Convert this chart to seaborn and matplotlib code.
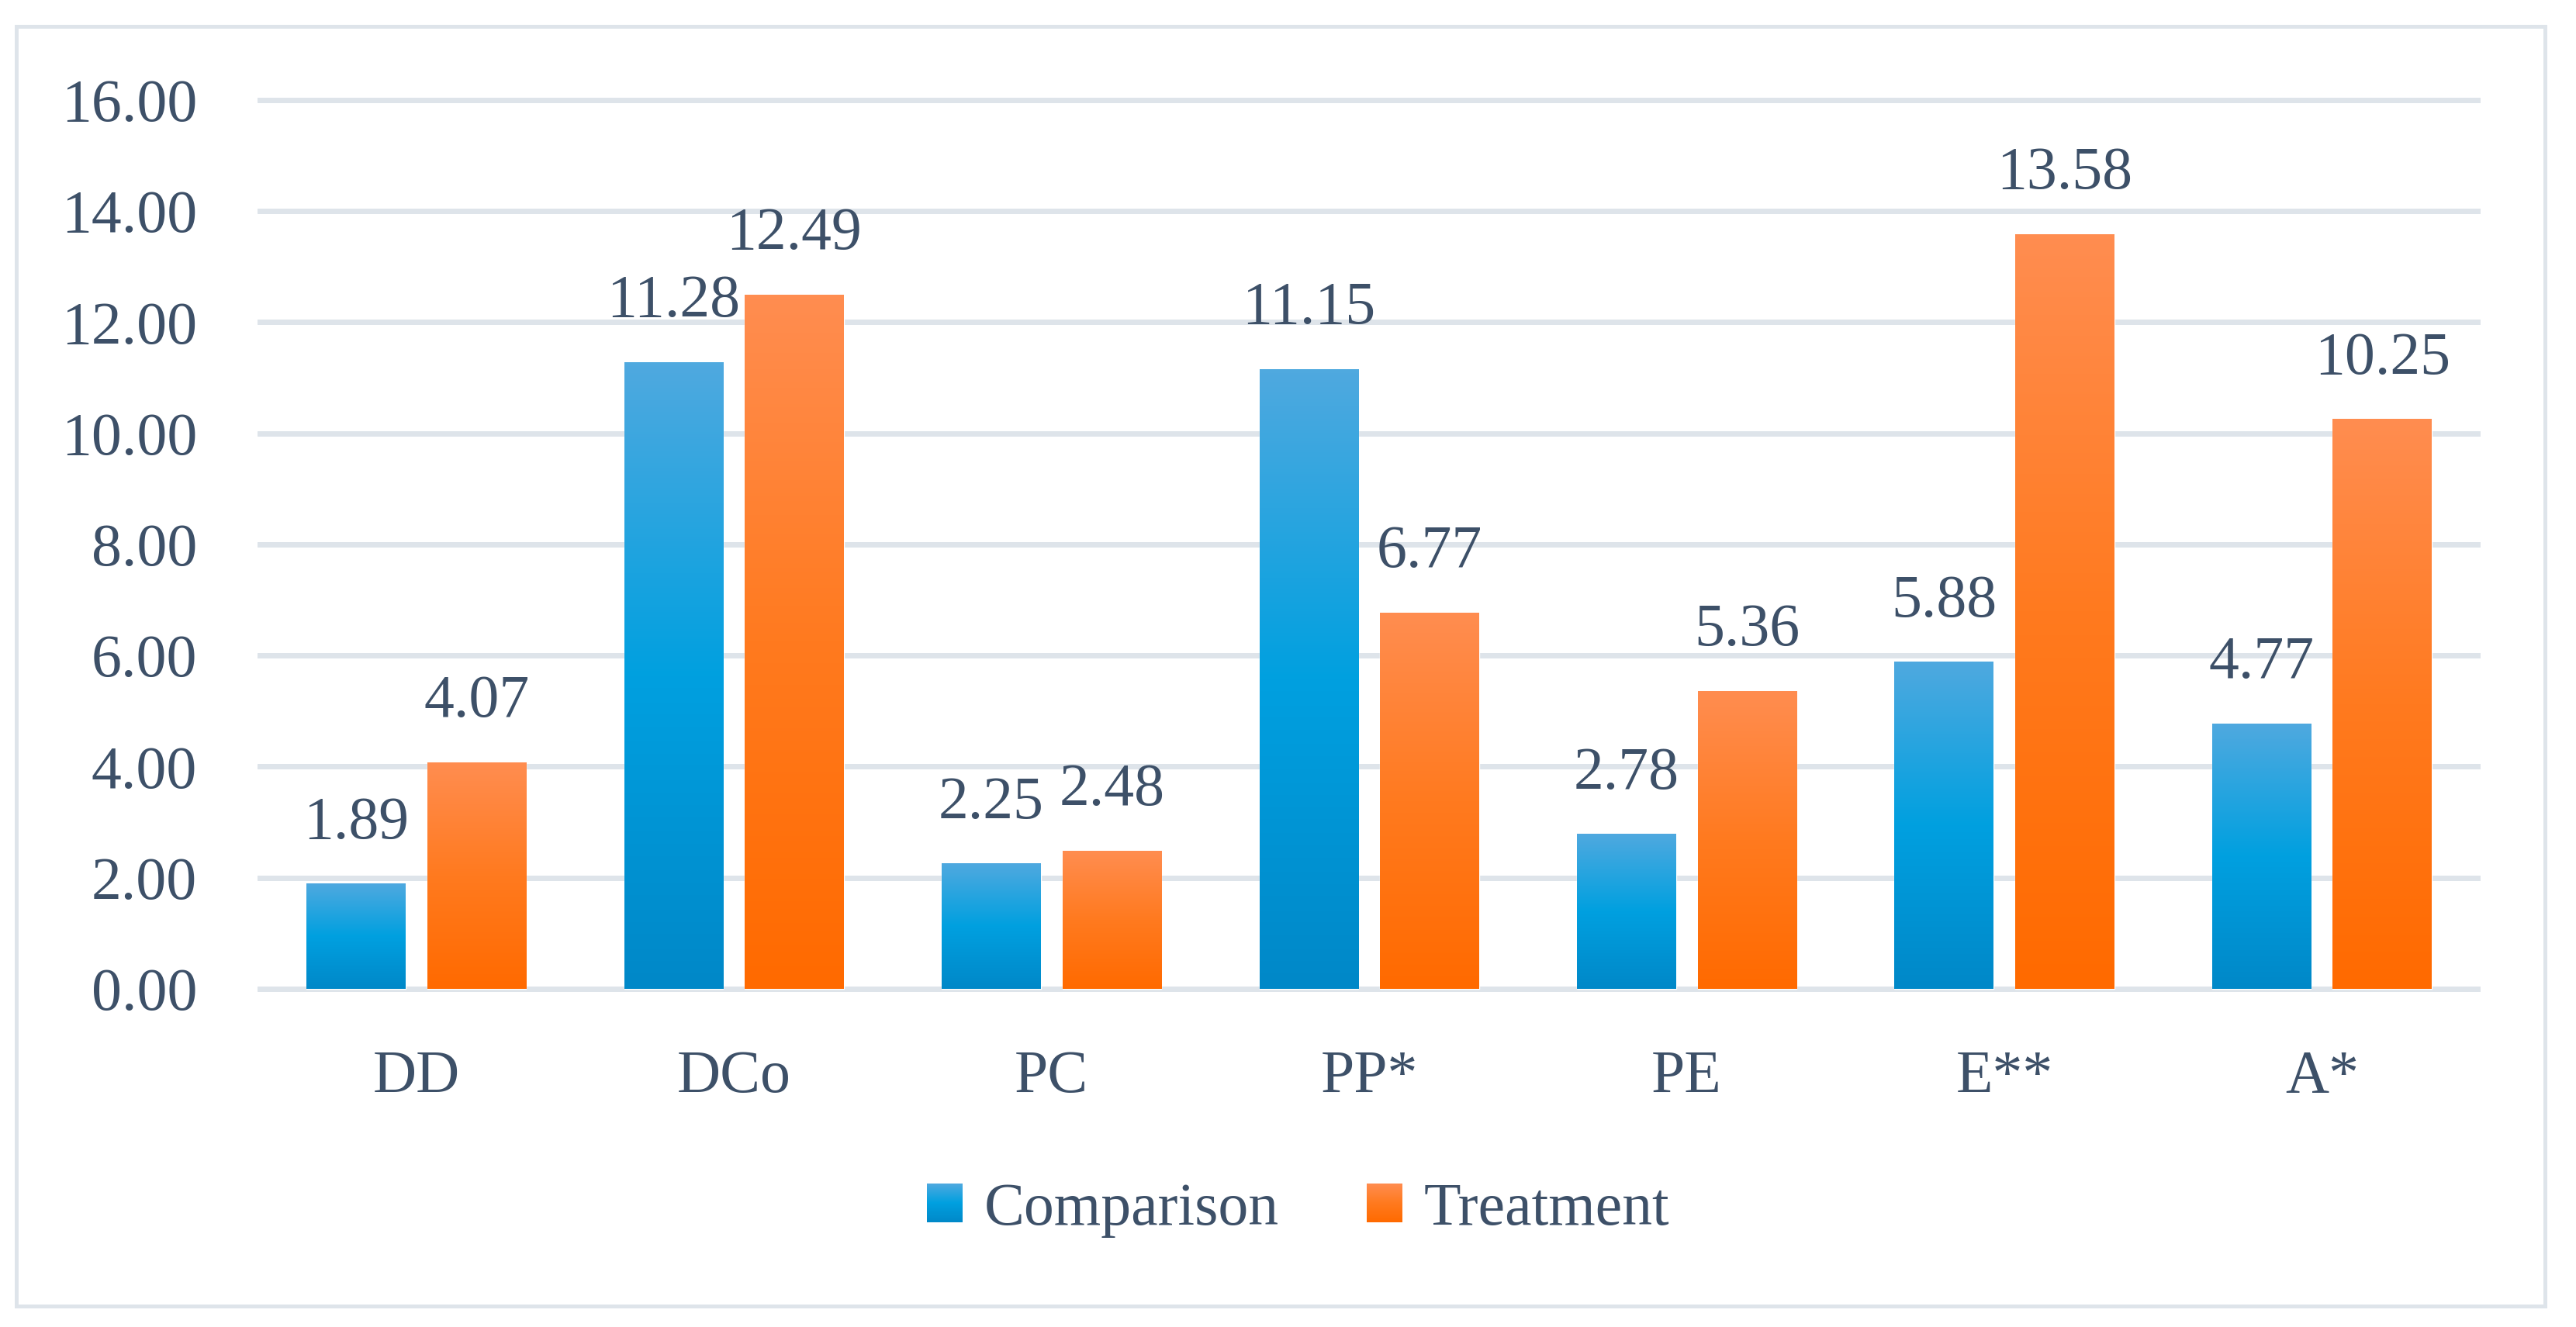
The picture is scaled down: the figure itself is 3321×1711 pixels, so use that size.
import numpy as np
import pandas as pd
import matplotlib
matplotlib.use("Agg")
import matplotlib.pyplot as plt
import seaborn as sns
from matplotlib.colors import LinearSegmentedColormap
from matplotlib.patches import Rectangle, Patch
from matplotlib.legend_handler import HandlerBase
from matplotlib.image import BboxImage
from matplotlib.transforms import Bbox, TransformedBbox

# Values
categories = ["DD", "DCo", "PC", "PP*", "PE", "E**", "A*"]
comparison = [1.89, 11.28, 2.25, 11.15, 2.78, 5.88, 4.77]
treatment = [4.07, 12.49, 2.48, 6.77, 5.36, 13.58, 10.25]
series = ["Comparison", "Treatment"]
yticks = [0, 2, 4, 6, 8, 10, 12, 14, 16]

df = pd.DataFrame({
    "category": categories * 2,
    "value": comparison + treatment,
    "group": [series[0]] * len(categories) + [series[1]] * len(categories),
})

text_col = "#3D5068"
grid_col = "#DEE4EA"
gradients = {
    "Comparison": ["#4FA9DF", "#00A0E0", "#0088C8"],
    "Treatment": ["#FF8D50", "#FF7A1F", "#FF6A00"],
}
cmaps = {s: LinearSegmentedColormap.from_list(s, gradients[s]) for s in series}
fs = 56

sns.set_theme(style="white")
plt.rcParams["font.family"] = ["Liberation Serif", "DejaVu Serif"]

fig = plt.figure(figsize=(33.21, 17.11), dpi=100)
ax = fig.add_axes([0.1, 0.2423, 0.863, 0.6949])

sns.barplot(
    data=df, x="category", y="value", hue="group",
    order=categories, hue_order=series,
    palette={s: gradients[s][1] for s in series},
    width=0.76, gap=0.18, ax=ax, legend=False,
)

# gradient fill on each bar + value labels
grad = np.linspace(0, 1, 256).reshape(-1, 1)
for s, cont in zip(series, ax.containers):
    for bar in cont:
        x, w, h = bar.get_x(), bar.get_width(), bar.get_height()
        ax.imshow(grad, extent=[x, x + w, 0, h], origin="upper", aspect="auto",
                  cmap=cmaps[s], interpolation="bilinear", zorder=bar.get_zorder() + 0.1)
        ax.annotate(f"{h:.2f}", (x + w / 2, h), xytext=(0, 42.5), textcoords="offset points",
                    ha="center", va="baseline", fontsize=fs, color=text_col, annotation_clip=False)

ax.set_xlim(-0.5, len(categories) - 0.5)
ax.set_ylim(-0.3, 16.3)
ax.set_yticks(yticks)
ax.set_yticklabels([f"{t:.2f}" for t in yticks])
ax.yaxis.grid(True, color=grid_col, linewidth=5)
ax.set_axisbelow(True)
for sp in ax.spines.values():
    sp.set_visible(False)
ax.set_xlabel("")
ax.set_ylabel("")
ax.tick_params(axis="y", length=0, pad=56, labelsize=fs, labelcolor=text_col)
ax.tick_params(axis="x", length=0, pad=41, labelsize=fs, labelcolor=text_col)


class GradientHandle(HandlerBase):
    def __init__(self, cmap):
        super().__init__()
        self.cmap = cmap

    def create_artists(self, legend, orig_handle, xdescent, ydescent, width, height, fontsize, trans):
        bb = TransformedBbox(Bbox.from_bounds(-xdescent, -ydescent, width, height), trans)
        img = BboxImage(bb, cmap=self.cmap, interpolation="bilinear", origin="upper")
        img.set_data(grad)
        return [img]


handles = [Patch(facecolor=gradients[s][1]) for s in series]
fig.legend(
    handles=handles, labels=series, loc="center", bbox_to_anchor=(0.504, 0.088),
    ncol=2, frameon=False, fontsize=fs, handlelength=0.59, handleheight=0.6,
    handletextpad=0.36, columnspacing=1.45, labelcolor=text_col,
    handler_map={h: GradientHandle(cmaps[s]) for h, s in zip(handles, series)},
)

# outer frame
fig.patches.append(Rectangle((0.0063, 0.0158), 0.9817, 0.9643, transform=fig.transFigure,
                             fill=False, edgecolor=grid_col, linewidth=3.6))

fig.savefig("out.png", dpi=100)
